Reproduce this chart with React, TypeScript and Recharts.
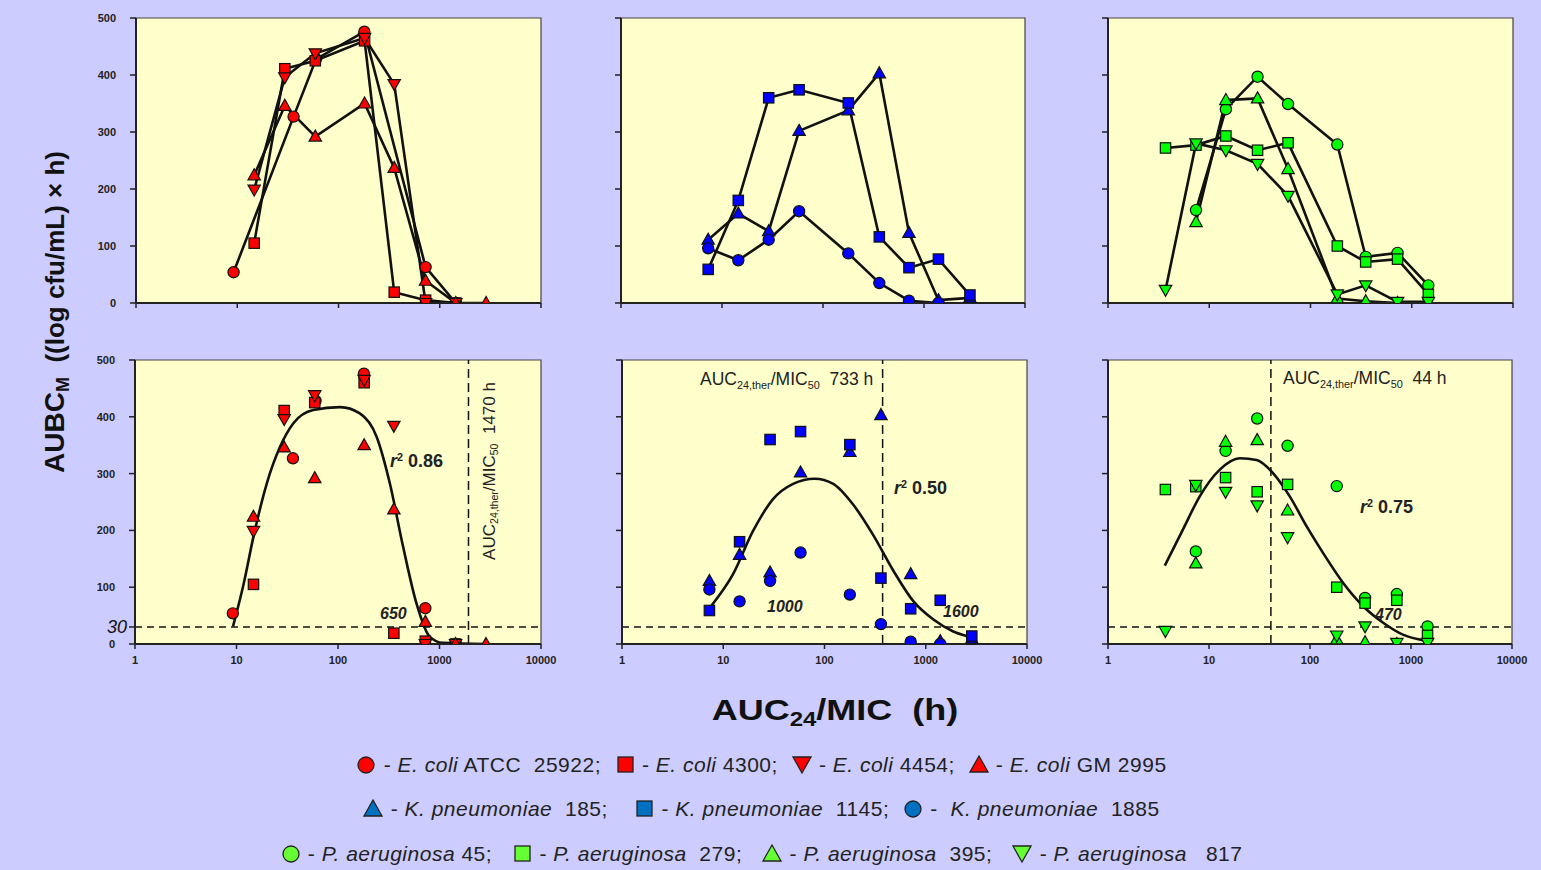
import React from 'react';
import { ComposedChart, Line, Scatter, XAxis, YAxis, ReferenceArea, ReferenceLine } from 'recharts';

type Pt = [number, number];

// ---------- data (x = AUC24/MIC, h ; y = AUBC_M) ----------
const xTickValues = [1, 10, 100, 1000, 10000];
const yTickValues = [0, 100, 200, 300, 400, 500];
const yTickValuesFirstBottom = [0, 30, 100, 200, 300, 400, 500];

// E. coli
const ecoliATCC25922: Pt[] = [[9.2, 54], [36, 327], [60, 428], [180, 476], [725, 63], [1440, 0]];
const ecoli4300: Pt[] = [[14.7, 105], [29.5, 411], [59, 425], [181, 460], [355, 19], [725, 5], [1440, 0]];
const ecoli4454: Pt[] = [[14.7, 199], [29.5, 396], [59, 438], [181, 465], [355, 384], [725, 0], [1440, 0]];
const ecoliGM2995: Pt[] = [[14.7, 224], [29.5, 346], [59, 292], [181, 350], [355, 237], [725, 39], [1440, 0], [2870, 0]];

// K. pneumoniae
const kp185: Pt[] = [[7.3, 111], [14.5, 157], [29, 126], [58, 302], [178, 338], [361, 403], [710, 123], [1390, 5], [2850, 9]];
const kp1145: Pt[] = [[7.3, 59], [14.5, 180], [29, 360], [58, 374], [178, 351], [361, 116], [710, 62], [1390, 77], [2850, 14]];
const kp1885: Pt[] = [[7.3, 96], [14.5, 75], [29, 111], [58, 161], [178, 87], [361, 35], [710, 4], [1390, 0]];

// P. aeruginosa
const pa45: Pt[] = [[7.4, 163], [14.6, 340], [30, 397], [60, 349], [184, 278], [351, 81], [724, 88], [1458, 31]];
const pa279: Pt[] = [[3.7, 272], [7.4, 277], [14.6, 293], [30, 268], [60, 281], [184, 100], [351, 72], [724, 77], [1458, 15]];
const pa395: Pt[] = [[7.4, 142], [14.6, 356], [30, 359], [60, 235], [184, 8], [351, 3], [724, 0]];
const pa817: Pt[] = [[3.7, 23], [7.4, 280], [14.6, 268], [30, 244], [60, 188], [184, 15], [351, 31], [724, 2], [1458, 2]];

// fitted curves
const ecoliFit: Pt[] = [[9.24, 31], [11.8, 107], [14.7, 189], [19.9, 283], [27, 348], [36.5, 389], [57, 412], [105, 417], [164, 406], [240, 365], [324, 283], [437, 172], [592, 72], [800, 13], [1075, 2], [2880, 0]];
const kpFit: Pt[] = [[7.6, 67], [12.5, 123], [19.7, 199], [31, 255], [49, 282], [80, 291], [122, 282], [191, 246], [300, 193], [479, 129], [757, 75], [1191, 43], [1870, 22], [2530, 14]];
const paFit: Pt[] = [[3.65, 138], [5.5, 201], [8.1, 260], [12.8, 307], [20.2, 327], [29.6, 324], [43, 301], [63, 260], [92.7, 207], [135, 160], [214, 107], [338, 66], [534, 37], [843, 16], [1380, 6]];

// thresholds
const thresholdY = 30;
const ecoliTher = 1930;
const kpTher = 375;
const paTher = 41;

// ---------- styles ----------
const FONT = '"Liberation Sans", Arial, sans-serif';
const BG = '#CCCCFF';
const PLOT_BG = '#FFFFCC';
const RED = '#FF0000';
const BLUE = '#0000FF';
const GREEN = '#00FF00';
const LEG_BLUE = '#0070C0';
const LEG_GREEN = '#66FF33';

type Kind = 'circle' | 'square' | 'up' | 'down';
interface Series { kind: Kind; data: Pt[] }

const ecoliSeries: Series[] = [
  { kind: 'circle', data: ecoliATCC25922 },
  { kind: 'square', data: ecoli4300 },
  { kind: 'down', data: ecoli4454 },
  { kind: 'up', data: ecoliGM2995 },
];
const kpSeries: Series[] = [
  { kind: 'up', data: kp185 },
  { kind: 'square', data: kp1145 },
  { kind: 'circle', data: kp1885 },
];
const paSeries: Series[] = [
  { kind: 'circle', data: pa45 },
  { kind: 'square', data: pa279 },
  { kind: 'up', data: pa395 },
  { kind: 'down', data: pa817 },
];

const toObj = (a: Pt[]) => a.map(([x, y]) => ({ x, y }));

function Mark({ cx, cy, kind, color }: { cx?: number; cy?: number; kind: Kind; color: string }) {
  if (cx == null || cy == null || isNaN(cx) || isNaN(cy)) return null;
  const s = { fill: color, stroke: '#111', strokeWidth: 1.2 };
  switch (kind) {
    case 'circle':
      return <circle cx={cx} cy={cy} r={5.6} {...s} />;
    case 'square':
      return <rect x={cx - 5.2} y={cy - 5.2} width={10.4} height={10.4} {...s} />;
    case 'up':
      return <polygon points={`${cx},${cy - 6.5} ${cx + 6.2},${cy + 4.5} ${cx - 6.2},${cy + 4.5}`} {...s} />;
    case 'down':
      return <polygon points={`${cx - 6.2},${cy - 4.5} ${cx + 6.2},${cy - 4.5} ${cx},${cy + 6.5}`} {...s} />;
  }
  return null;
}

const NoTick = () => null;

const YTick = (props: any) => {
  const { x, y, payload } = props;
  if (payload.value === 30) {
    return (
      <text x={x + 12} y={y} dy={6} textAnchor="end" fontSize={18} fontStyle="italic" fill="#111" fontFamily={FONT}>
        30
      </text>
    );
  }
  return (
    <text x={x} y={y} dy={4} textAnchor="end" fontSize={11} fontWeight="bold" fill="#222" fontFamily={FONT}>
      {payload.value}
    </text>
  );
};

interface PanelProps {
  plotLeft: number;
  plotTop: number;
  plotW: number;
  plotH: number;
  series: Series[];
  color: string;
  mode: 'line' | 'scatter';
  fit?: Pt[];
  vline?: number;
  yLabels: boolean;
  xLabels: boolean;
  thirty?: boolean;
}

function Panel({ plotLeft, plotTop, plotW, plotH, series, color, mode, fit, vline, yLabels, xLabels, thirty }: PanelProps) {
  const ML = 50, MT = 8, MR = 26, XH = 30;
  const width = ML + plotW + MR;
  const height = MT + plotH + XH;
  return (
    <div style={{ position: 'absolute', left: plotLeft - ML, top: plotTop - MT }}>
      <ComposedChart width={width} height={height} margin={{ top: MT, right: MR, bottom: 0, left: 0 }}>
        <XAxis
          type="number"
          dataKey="x"
          scale="log"
          domain={[1, 10000]}
          ticks={xTickValues}
          interval={0}
          allowDataOverflow
          height={XH}
          tickSize={5}
          tickMargin={7}
          axisLine={{ stroke: '#222', strokeWidth: 2 }}
          tickLine={{ stroke: '#222', strokeWidth: 1.5 }}
          tick={xLabels ? { fontSize: 11, fontWeight: 'bold', fill: '#222', fontFamily: FONT } : NoTick}
        />
        <YAxis
          type="number"
          dataKey="y"
          domain={[0, 500]}
          ticks={thirty ? yTickValuesFirstBottom : yTickValues}
          interval={0}
          allowDataOverflow
          width={ML}
          tickSize={6}
          tickMargin={14}
          axisLine={{ stroke: '#222', strokeWidth: 2 }}
          tickLine={{ stroke: '#222', strokeWidth: 1.5 }}
          tick={yLabels ? YTick : NoTick}
        />
        <ReferenceArea x1={1} x2={10000} y1={0} y2={500} fill={PLOT_BG} fillOpacity={1} stroke="#444" strokeWidth={1.2} />
        {mode === 'scatter' && (
          <ReferenceLine y={thresholdY} stroke="#111" strokeDasharray="7 5" strokeWidth={1.5} />
        )}
        {mode === 'scatter' && vline != null && (
          <ReferenceLine x={vline} stroke="#111" strokeDasharray="9 5" strokeWidth={1.5} />
        )}
        {mode === 'line' &&
          series.map((s, i) => (
            <Line
              key={`l${i}`}
              data={toObj(s.data)}
              dataKey="y"
              type="linear"
              stroke="#111"
              strokeWidth={2.6}
              dot={false}
              activeDot={false}
              isAnimationActive={false}
            />
          ))}
        {mode === 'scatter' && fit && (
          <Line
            data={toObj(fit)}
            dataKey="y"
            type="monotone"
            stroke="#111"
            strokeWidth={2.6}
            dot={false}
            activeDot={false}
            isAnimationActive={false}
          />
        )}
        {series.map((s, i) => (
          <Scatter
            key={`s${i}`}
            data={toObj(s.data)}
            dataKey="y"
            isAnimationActive={false}
            shape={(p: any) => <Mark cx={p.cx} cy={p.cy} kind={s.kind} color={color} />}
          />
        ))}
      </ComposedChart>
    </div>
  );
}

const subStyle: React.CSSProperties = { fontSize: '0.62em', verticalAlign: '-0.3em', lineHeight: 0 };

function Ann({ left, cy, children, style }: { left: number; cy: number; children: React.ReactNode; style?: React.CSSProperties }) {
  return (
    <div
      style={{
        position: 'absolute',
        left,
        top: cy,
        transform: 'translateY(-50%)',
        whiteSpace: 'pre',
        fontFamily: FONT,
        color: '#222',
        lineHeight: 1,
        ...style,
      }}
    >
      {children}
    </div>
  );
}

const Ther = ({ value }: { value: string }) => (
  <span>
    AUC<span style={subStyle}>24,ther</span>/MIC<span style={subStyle}>50</span>
    {`  ${value}`}
  </span>
);

const R2 = ({ value }: { value: string }) => (
  <span style={{ fontWeight: 'bold' }}>
    <i>r</i>
    <span style={{ fontSize: '0.6em', verticalAlign: '0.6em', lineHeight: 0 }}>2</span>
    {` ${value}`}
  </span>
);

function BigLegIcon({ kind, color }: { kind: Kind; color: string }) {
  const s = { fill: color, stroke: '#222', strokeWidth: 1.3 };
  let el: React.ReactNode = null;
  if (kind === 'circle') el = <circle cx={11} cy={11} r={8} {...s} />;
  if (kind === 'square') el = <rect x={4} y={3} width={15} height={15} {...s} />;
  if (kind === 'up') el = <polygon points="11,2 20,18 2,18" {...s} />;
  if (kind === 'down') el = <polygon points="2,3 20,3 11,19" {...s} />;
  return (
    <svg width={22} height={22} style={{ verticalAlign: '-4px' }}>
      {el}
    </svg>
  );
}

const legendRows: { kind: Kind; color: string; sp: string; id: string; post: string }[][] = [
  [
    { kind: 'circle', color: RED, sp: 'E. coli', id: ' ATCC  25922', post: ';  ' },
    { kind: 'square', color: RED, sp: 'E. coli', id: ' 4300', post: ';  ' },
    { kind: 'down', color: RED, sp: 'E. coli', id: ' 4454', post: ';  ' },
    { kind: 'up', color: RED, sp: 'E. coli', id: ' GM 2995', post: '' },
  ],
  [
    { kind: 'up', color: LEG_BLUE, sp: 'K. pneumoniae', id: '  185', post: ';    ' },
    { kind: 'square', color: LEG_BLUE, sp: 'K. pneumoniae', id: '  1145', post: ';  ' },
    { kind: 'circle', color: LEG_BLUE, sp: ' K. pneumoniae', id: '  1885', post: '' },
  ],
  [
    { kind: 'circle', color: LEG_GREEN, sp: 'P. aeruginosa', id: ' 45', post: ';   ' },
    { kind: 'square', color: LEG_GREEN, sp: 'P. aeruginosa', id: '  279', post: ';   ' },
    { kind: 'up', color: LEG_GREEN, sp: 'P. aeruginosa', id: '  395', post: ';   ' },
    { kind: 'down', color: LEG_GREEN, sp: 'P. aeruginosa', id: '   817', post: '' },
  ],
];
const legendRowY = [765, 809, 854];

export default function App() {
  const W = 404;
  const HT = 285;
  const HB = 284;
  return (
    <div style={{ position: 'absolute', left: 0, top: 0, width: 1541, height: 870, background: BG, overflow: 'hidden', fontFamily: FONT }}>
      {/* top row */}
      <Panel plotLeft={136} plotTop={18} plotW={W + 1} plotH={HT} series={ecoliSeries} color={RED} mode="line" yLabels xLabels={false} />
      <Panel plotLeft={621} plotTop={18} plotW={W} plotH={HT} series={kpSeries} color={BLUE} mode="line" yLabels={false} xLabels={false} />
      <Panel plotLeft={1108} plotTop={18} plotW={W + 1} plotH={HT} series={paSeries} color={GREEN} mode="line" yLabels={false} xLabels={false} />
      {/* bottom row */}
      <Panel plotLeft={135} plotTop={360} plotW={W + 2} plotH={HB} series={ecoliSeries} color={RED} mode="scatter" fit={ecoliFit} vline={ecoliTher} yLabels xLabels thirty />
      <Panel plotLeft={622} plotTop={360} plotW={W + 1} plotH={HB} series={kpSeries} color={BLUE} mode="scatter" fit={kpFit} vline={kpTher} yLabels={false} xLabels />
      <Panel plotLeft={1108} plotTop={360} plotW={W} plotH={HB} series={paSeries} color={GREEN} mode="scatter" fit={paFit} vline={paTher} yLabels={false} xLabels />

      {/* annotations panel 1 */}
      <Ann left={390} cy={461} style={{ fontSize: 18 }}>
        <R2 value="0.86" />
      </Ann>
      <Ann left={380} cy={614} style={{ fontSize: 16, fontWeight: 'bold', fontStyle: 'italic' }}>650</Ann>
      <div
        style={{
          position: 'absolute',
          left: 489,
          top: 471,
          transform: 'translate(-50%, -50%) rotate(-90deg)',
          whiteSpace: 'pre',
          fontFamily: FONT,
          fontSize: 17,
          color: '#222',
          lineHeight: 1,
        }}
      >
        <Ther value="1470 h" />
      </div>

      {/* annotations panel 2 */}
      <Ann left={700} cy={380} style={{ fontSize: 17.5 }}>
        <Ther value="733 h" />
      </Ann>
      <Ann left={894} cy={488} style={{ fontSize: 18 }}>
        <R2 value="0.50" />
      </Ann>
      <Ann left={767} cy={607} style={{ fontSize: 16, fontWeight: 'bold', fontStyle: 'italic' }}>1000</Ann>
      <Ann left={943} cy={612} style={{ fontSize: 16, fontWeight: 'bold', fontStyle: 'italic' }}>1600</Ann>

      {/* annotations panel 3 */}
      <Ann left={1283} cy={379} style={{ fontSize: 17.5 }}>
        <Ther value="44 h" />
      </Ann>
      <Ann left={1360} cy={507} style={{ fontSize: 18 }}>
        <R2 value="0.75" />
      </Ann>
      <Ann left={1375} cy={615} style={{ fontSize: 16, fontWeight: 'bold', fontStyle: 'italic' }}>470</Ann>

      {/* y axis title */}
      <div
        style={{
          position: 'absolute',
          left: 55,
          top: 312,
          transform: 'translate(-50%, -50%) rotate(-90deg)',
          whiteSpace: 'pre',
          fontFamily: FONT,
          fontWeight: 'bold',
          color: '#111',
          lineHeight: 1,
        }}
      >
        <span style={{ fontSize: 28 }}>
          AUBC<span style={{ fontSize: 18, verticalAlign: '-0.25em', lineHeight: 0 }}>M</span>
        </span>
        <span style={{ fontSize: 26 }}>{'  ((log cfu/mL) × h)'}</span>
      </div>

      {/* x axis title */}
      <div
        style={{
          position: 'absolute',
          left: 835,
          top: 710,
          transform: 'translate(-50%, -50%) scaleX(1.2)',
          whiteSpace: 'pre',
          fontFamily: FONT,
          fontWeight: 'bold',
          fontSize: 30,
          color: '#111',
          lineHeight: 1,
        }}
      >
        AUC<span style={{ fontSize: 20, verticalAlign: '-0.3em', lineHeight: 0 }}>24</span>
        {'/MIC  (h)'}
      </div>

      {/* legend */}
      {legendRows.map((row, ri) => (
        <div
          key={ri}
          style={{
            position: 'absolute',
            left: 0,
            width: 1522,
            top: legendRowY[ri],
            transform: 'translateY(-50%)',
            textAlign: 'center',
            whiteSpace: 'pre',
            fontFamily: FONT,
            fontSize: 21,
            letterSpacing: 0.5,
            color: '#222',
            lineHeight: 1,
          }}
        >
          {row.map((it, ii) => (
            <span key={ii}>
              <BigLegIcon kind={it.kind} color={it.color} />
              {' - '}
              <i>{it.sp}</i>
              {it.id}
              {it.post}
            </span>
          ))}
        </div>
      ))}
    </div>
  );
}
